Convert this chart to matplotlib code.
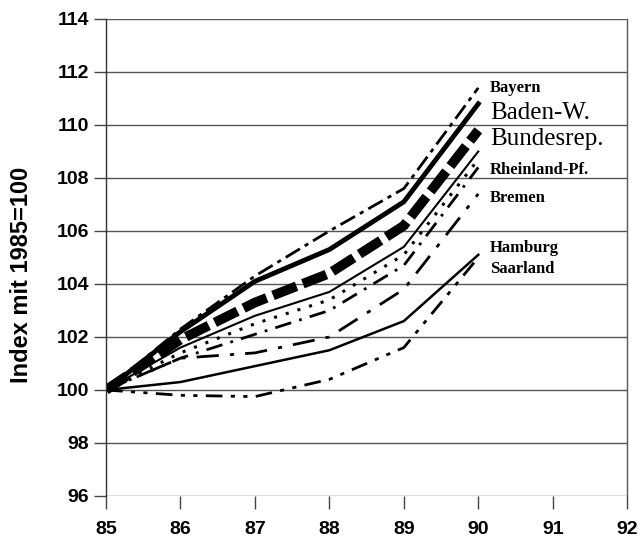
import matplotlib.pyplot as plt

# Years (1985 = 100)
years = [85, 86, 87, 88, 89, 90]

bayern = [100, 102.3, 104.3, 106.0, 107.6, 111.4]
baden_w = [100, 102.2, 104.1, 105.3, 107.1, 110.8]
bundesrep = [100, 101.9, 103.3, 104.4, 106.2, 109.8]
rheinland_pf = [100, 101.6, 102.8, 103.7, 105.4, 109.0]
dotted_line = [100, 101.4, 102.5, 103.4, 105.1, 108.7]
dashdot_line = [100, 101.2, 102.1, 103.0, 104.7, 108.4]
bremen = [100, 101.2, 101.4, 102.0, 103.8, 107.4]
hamburg = [100, 100.3, 100.9, 101.5, 102.6, 105.1]
saarland = [100, 99.8, 99.75, 100.4, 101.6, 105.0]

x_ticks = [85, 86, 87, 88, 89, 90, 91, 92]
y_ticks = [96, 98, 100, 102, 104, 106, 108, 110, 112, 114]

fig = plt.figure(figsize=(6.4, 5.41), dpi=100)
ax = fig.add_axes([0.1656, 0.0832, 0.8144, 0.8817])

k = 'black'
ax.plot(years, saarland, color=k, lw=2, linestyle=(0, (6, 3, 1.5, 3, 1.5, 3)))
ax.plot(years, hamburg, color=k, lw=1.8, linestyle='-')
ax.plot(years, bremen, color=k, lw=2, linestyle=(0, (8, 4, 1.5, 4)))
ax.plot(years, dashdot_line, color=k, lw=2, linestyle=(0, (6, 3, 1, 3)))
ax.plot(years, dotted_line, color=k, lw=2.2, linestyle=(0, (1, 3)))
ax.plot(years, rheinland_pf, color=k, lw=1.5, linestyle='-')
ax.plot(years, bundesrep, color=k, lw=7, linestyle=(0, (2.6, 0.7)))
ax.plot(years, baden_w, color=k, lw=3.5, linestyle='-')
ax.plot(years, bayern, color=k, lw=2, linestyle=(0, (6, 2, 1.5, 2)))

# series labels
serif = 'Liberation Serif'
small = dict(fontsize=12, fontweight='bold', family=serif, va='center')
big = dict(fontsize=18, family=serif, va='center')
ax.text(90.16, 111.4, 'Bayern', **small)
ax.text(90.16, 110.45, 'Baden-W.', **big)
ax.text(90.16, 109.47, 'Bundesrep.', **big)
ax.text(90.16, 108.3, 'Rheinland-Pf.', **small)
ax.text(90.16, 107.25, 'Bremen', **small)
ax.text(90.16, 105.36, 'Hamburg', **small)
ax.text(90.16, 104.57, 'Saarland', **small)

ax.set_xlim(85, 92)
ax.set_ylim(96, 114)
ax.set_xticks(x_ticks)
ax.set_yticks(y_ticks)
ax.set_xticklabels([str(t) for t in x_ticks], fontsize=14, fontweight='bold', family='Liberation Sans')
ax.set_yticklabels([str(t) for t in y_ticks], fontsize=14, fontweight='bold', family='Liberation Sans')
ax.tick_params(axis='both', direction='out', length=9, width=1, color='#444444')
ax.tick_params(axis='x', pad=9)
ax.tick_params(axis='y', pad=3)

ax.grid(True, axis='y', color='#555555', lw=1)
ax.set_axisbelow(True)
for side in ['top', 'bottom']:
    ax.spines[side].set_visible(False)
ax.spines['left'].set_color('#333333')
ax.spines['right'].set_color('#555555')
ax.spines['left'].set_linewidth(1)
ax.spines['right'].set_linewidth(1)

ax.set_ylabel('Index mit 1985=100', fontsize=17, fontweight='bold', family='Liberation Sans')
ax.yaxis.set_label_coords(-0.14, 0.463)

fig.savefig('out.png', dpi=100)
